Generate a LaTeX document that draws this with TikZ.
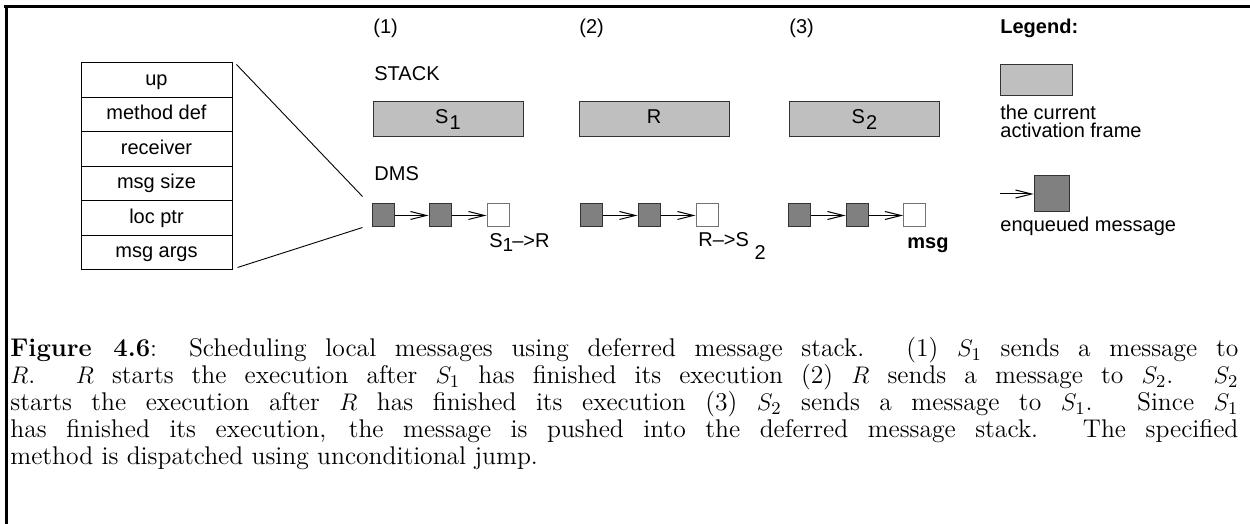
\documentclass[tikz,border=0pt]{standalone}
\usepackage{fontspec}
\newfontfamily\hv{Liberation Sans}
\usetikzlibrary{arrows.meta,calc}
\newcommand\capfont{\fontsize{12.8pt}{13.5pt}\selectfont}
\begin{document}
\begin{tikzpicture}[x=0.5pt,y=-0.5pt,
  hvf/.style={font=\hv\fontsize{10}{12}\selectfont},
  lab/.style={hvf, inner sep=0pt, anchor=base west},
  row/.style={hvf, draw=black, line width=0.5pt, minimum width=75.5pt, minimum height=17.25pt,
    inner sep=0pt, text height=7pt, text depth=2pt},
  frm/.style={hvf, draw=black!80, line width=0.5pt, fill=black!25, minimum width=75pt,
    minimum height=17.5pt, inner sep=0pt, text height=7pt, text depth=2.5pt},
  sq/.style={draw=black!80, fill=black!50, line width=0.5pt, minimum width=11pt,
    minimum height=11.5pt, inner sep=0pt},
  wsq/.style={sq, fill=white, draw=black!55},
  arr/.style={line width=0.5pt, -{Straight Barb[length=8pt,width=4pt,line width=0.5pt]}},
  conn/.style={line width=0.45pt}
]
\useasboundingbox (0,0) rectangle (1250,524);
% caption
\node[anchor=base west, inner sep=0pt] (cap) at (10,357)
 {\parbox[t]{614pt}{\normalfont\capfont\hbadness=10000 \textbf{Figure 4.6}: Scheduling local messages using deferred message stack. (1) $S_1$ sends a message to\linebreak
 $R$. $R$ starts the execution after $S_1$ has finished its execution (2) $R$ sends a message to $S_2$. $S_2$\linebreak
 starts the execution after $R$ has finished its execution (3) $S_2$ sends a message to $S_1$. Since $S_1$\linebreak
 has finished its execution, the message is pushed into the deferred message stack. The specified\linebreak
 method is dispatched using unconditional jump.}};

% border lines
\draw[line width=1.5pt] (4,7) -- (1250,7);
\draw[line width=1.5pt] (6,5.5) -- (6,524);

% table
\node[row] (r1) at (156.5,80.25) {up};
\node[row] (r2) at (156.5,114.75) {method def};
\node[row] (r3) at (156.5,149.25) {receiver};
\node[row] (r4) at (156.5,183.75) {msg size};
\node[row] (r5) at (156.5,218.25) {loc ptr};
\node[row] (r6) at (156.5,252.75) {msg args};

% headings
\node[lab] (h1) at (373,34) {(1)};
\node[lab] (h2) at (579,34) {(2)};
\node[lab] (h3) at (789,34) {(3)};
\node[lab, font=\hv\bfseries\fontsize{10}{12}\selectfont] (leg) at (1000,34) {Legend:};
\node[lab] (stk) at (374,81) {STACK};
\node[lab] (dms) at (374,181) {DMS};

% stack frames
\node[frm] (f1) at (448,119.5) {S\kern0.6pt\raisebox{-3pt}{1}};
\node[frm] (f2) at (654,119.5) {R};
\node[frm] (f3) at (864.5,119.5) {S\kern0.6pt\raisebox{-3pt}{2}};

% message queues
\node[sq]  (q11) at (383,215.5) {};
\node[sq]  (q12) at (440,215.5) {};
\node[wsq] (q13) at (498,215.5) {};
\node[sq]  (q21) at (591,215.5) {};
\node[sq]  (q22) at (649,215.5) {};
\node[wsq] (q23) at (707,215.5) {};
\node[sq]  (q31) at (799.5,215.5) {};
\node[sq]  (q32) at (857,215.5) {};
\node[wsq] (q33) at (914.5,215.5) {};
\foreach \g in {1,2,3}{
  \draw[arr] (q\g1.east) -- (q\g2.west);
  \draw[arr] (q\g2.east) -- (q\g3.west);
}

% labels under queues
\node[lab] (l1) at (489,248) {S\raisebox{-2pt}{\fontsize{9.5}{10}\selectfont 1}\kern-0.5pt–>R};
\node[lab] (l2) at (698,247) {R–>S \raisebox{-6.5pt}{2}};
\node[lab, font=\hv\bfseries\fontsize{10}{12}\selectfont] (l3) at (907,249) {msg};

% connectors from table
\draw[conn] ($(r1.north east)+(4,2)$) -- ($(q11.north west)+(-9,-7)$);
\draw[conn] ($(r6.south east)+(5,-3)$) -- ($(q11.south west)+(-9,0)$);

% legend
\node[frm, minimum width=36pt, minimum height=15.5pt] (lbox) at (1036,80.5) {};
\node[lab] (lt1) at (1000,120) {the current};
\node[lab] (lt2) at (1000,138) {activation frame};
\node[sq, minimum width=17.5pt, minimum height=18pt] (lsq) at (1051.5,194) {};
\coordinate (lin) at ($(lsq.west)+(-34,0)$);
\draw[arr] (lin) -- (lsq.west);
\node[lab] (lt3) at (1000,232) {enqueued message};
\end{tikzpicture}
\end{document}
